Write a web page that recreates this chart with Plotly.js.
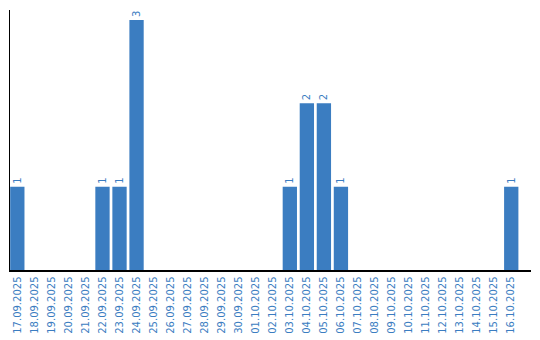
<!DOCTYPE html>
<html><head><meta charset="utf-8">
<script src="https://cdn.plot.ly/plotly-3.0.1.min.js"></script>
<style>body{margin:0;padding:0;background:#fff}#chart{width:540px;height:340px}</style>
</head><body><div id="chart"></div>
<script>
const dates = ["17.09.2025","18.09.2025","19.09.2025","20.09.2025","21.09.2025","22.09.2025","23.09.2025","24.09.2025","25.09.2025","26.09.2025","27.09.2025","28.09.2025","29.09.2025","30.09.2025","01.10.2025","02.10.2025","03.10.2025","04.10.2025","05.10.2025","06.10.2025","07.10.2025","08.10.2025","09.10.2025","10.10.2025","11.10.2025","12.10.2025","13.10.2025","14.10.2025","15.10.2025","16.10.2025"];
const counts = [1,0,0,0,0,1,1,3,0,0,0,0,0,0,0,0,1,2,2,1,0,0,0,0,0,0,0,0,0,1];
const labels = counts.map(v => v > 0 ? String(v) : "");
const blue = "#3b7dc1";
const fam = "'DejaVu Sans', Verdana, sans-serif";
Plotly.newPlot("chart", [{
  type: "bar", x: dates, y: counts, text: labels, textposition: "outside",
  textangle: -90, cliponaxis: false,
  textfont: {family: fam, size: 10, color: blue},
  marker: {color: blue}, hoverinfo: "none"
}], {
  width: 540, height: 340, margin: {l: 10, r: 9, t: 10, b: 70},
  paper_bgcolor: "#fff", plot_bgcolor: "#fff", bargap: 0.16, showlegend: false,
  font: {family: fam, size: 10, color: blue},
  xaxis: {type: "category", range: [-0.43, 30.16], tickangle: -90, showline: true, linecolor: "#000", linewidth: 1.5,
          ticks: "", showgrid: false, zeroline: false, ticklabelstandoff: 1, tickfont: {family: fam, size: 10, color: blue}},
  yaxis: {range: [0, 3.12], showline: true, linecolor: "#000", linewidth: 1.5, showticklabels: false,
          ticks: "", showgrid: false, zeroline: false}
}, {displayModeBar: false, staticPlot: true});
</script></body></html>
